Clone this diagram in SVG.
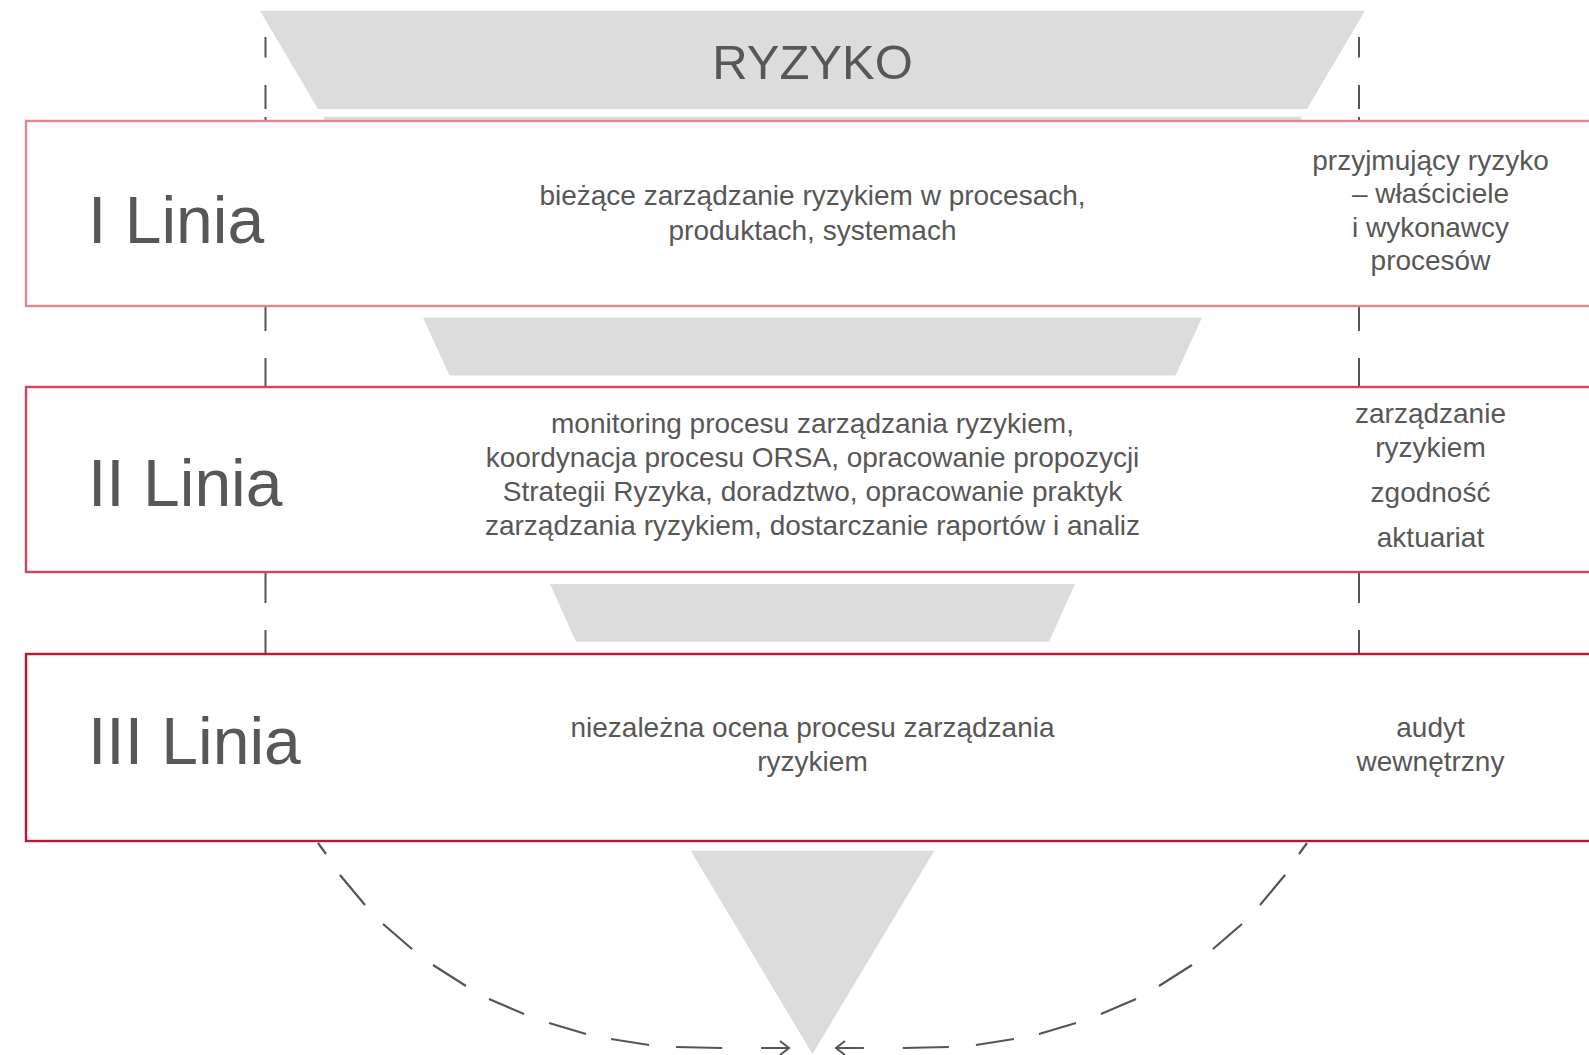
<svg xmlns="http://www.w3.org/2000/svg" width="1589" height="1055" viewBox="0 0 1589 1055">
  <defs>
    <style>
      .funnel { fill: #dcdcdc; }
      .box { fill: #ffffff; stroke-width: 2.4; }
      .guide { stroke: #555555; stroke-width: 2; fill: none; }
      .t { font-family: "Liberation Sans", Arial, sans-serif; fill: #575757; text-anchor: middle; }
      .desc { font-size: 28px; }
      .big { font-size: 66px; text-anchor: start; }
      .curve { stroke: #555555; stroke-width: 2.2; fill: none; stroke-dasharray: 13.6 25.2 39.1 26.2 38.3 26.4 39.1 26.4 38.1 26.6 38.6 25.5 38.5 27.1 46 39 28 40; }
    </style>
    <marker id="arr" viewBox="-2 -2 14 18" refX="9" refY="7" markerWidth="14" markerHeight="18" markerUnits="userSpaceOnUse" orient="auto">
      <path d="M0,0 L9,7 L0,14" fill="none" stroke="#555555" stroke-width="2"/>
    </marker>
  </defs>

  <rect x="0" y="0" width="1589" height="1055" fill="#ffffff"/>

  <!-- dashed vertical guides -->
  <g id="guides" class="guide">
    <path d="M265.5,37 V57.5 M265.5,85 V109 M265.5,117 V122 M265.5,307 V331 M265.5,358 V388 M265.5,573 V603 M265.5,630 V654"/>
    <path d="M1359,37 V57.5 M1359,85 V109 M1359,117 V122 M1359,307 V331 M1359,358 V388 M1359,573 V603 M1359,630 V654"/>
  </g>

  <!-- funnel -->
  <g id="funnel">
    <polygon class="funnel" points="260,10.7 1365,10.7 1307,109 318,109"/>
    <polygon class="funnel" points="323,116.7 1302,116.7 1280,160 345,160"/>
    <polygon class="funnel" points="423,317.5 1202,317.5 1175.5,375.5 449.5,375.5"/>
    <polygon class="funnel" points="550,584 1075,584 1049,641.7 576,641.7"/>
    <polygon class="funnel" points="690.7,850.7 934.3,850.7 812.5,1054"/>
    <text class="t" x="812.5" y="78.5" font-size="49">RYZYKO</text>
  </g>

  <g id="linia1">
    <rect class="box" x="26" y="121" width="1600" height="185" stroke="#e0868f"/>
    <text class="t big" x="88" y="243">I Linia</text>
    <text class="t desc" x="812.5" y="205">bieżące zarządzanie ryzykiem w procesach,</text>
    <text class="t desc" x="812.5" y="239.5">produktach, systemach</text>
    <text class="t desc" x="1430.5" y="169.5">przyjmujący ryzyko</text>
    <text class="t desc" x="1430.5" y="203">– właściciele</text>
    <text class="t desc" x="1430.5" y="236.5">i wykonawcy</text>
    <text class="t desc" x="1430.5" y="270">procesów</text>
  </g>

  <g id="linia2">
    <rect class="box" x="26" y="387" width="1600" height="185" stroke="#d24456"/>
    <text class="t big" x="88" y="505.7">II Linia</text>
    <text class="t desc" x="812.5" y="432.5">monitoring procesu zarządzania ryzykiem,</text>
    <text class="t desc" x="812.5" y="466.5">koordynacja procesu ORSA, opracowanie propozycji</text>
    <text class="t desc" x="812.5" y="500.5">Strategii Ryzyka, doradztwo, opracowanie praktyk</text>
    <text class="t desc" x="812.5" y="534.5">zarządzania ryzykiem, dostarczanie raportów i analiz</text>
    <text class="t desc" x="1430.5" y="422.5">zarządzanie</text>
    <text class="t desc" x="1430.5" y="456.5">ryzykiem</text>
    <text class="t desc" x="1430.5" y="501.5">zgodność</text>
    <text class="t desc" x="1430.5" y="546.5">aktuariat</text>
  </g>

  <g id="linia3">
    <rect class="box" x="26" y="654" width="1600" height="187" stroke="#c4142f"/>
    <text class="t big" x="88" y="764.3">III Linia</text>
    <text class="t desc" x="812.5" y="736.5">niezależna ocena procesu zarządzania</text>
    <text class="t desc" x="812.5" y="770.5">ryzykiem</text>
    <text class="t desc" x="1430.5" y="736.5">audyt</text>
    <text class="t desc" x="1430.5" y="770.5">wewnętrzny</text>
  </g>

  <!-- connectors -->
  <g id="connectors">
    <polyline id="loop-left" class="curve" marker-end="url(#arr)" points="318,843 326,854 340,875 365,905 383,924 412,949 433,965 466,986 489,999 524,1014 549,1023 586,1034 611,1039 649,1045 676,1047 722,1048 761,1048 789,1048"/>
    <polyline id="loop-right" class="curve" marker-end="url(#arr)" transform="translate(1625,0) scale(-1,1)" points="318,843 326,854 340,875 365,905 383,924 412,949 433,965 466,986 489,999 524,1014 549,1023 586,1034 611,1039 649,1045 676,1047 722,1048 761,1048 789,1048"/>
  </g>
</svg>
